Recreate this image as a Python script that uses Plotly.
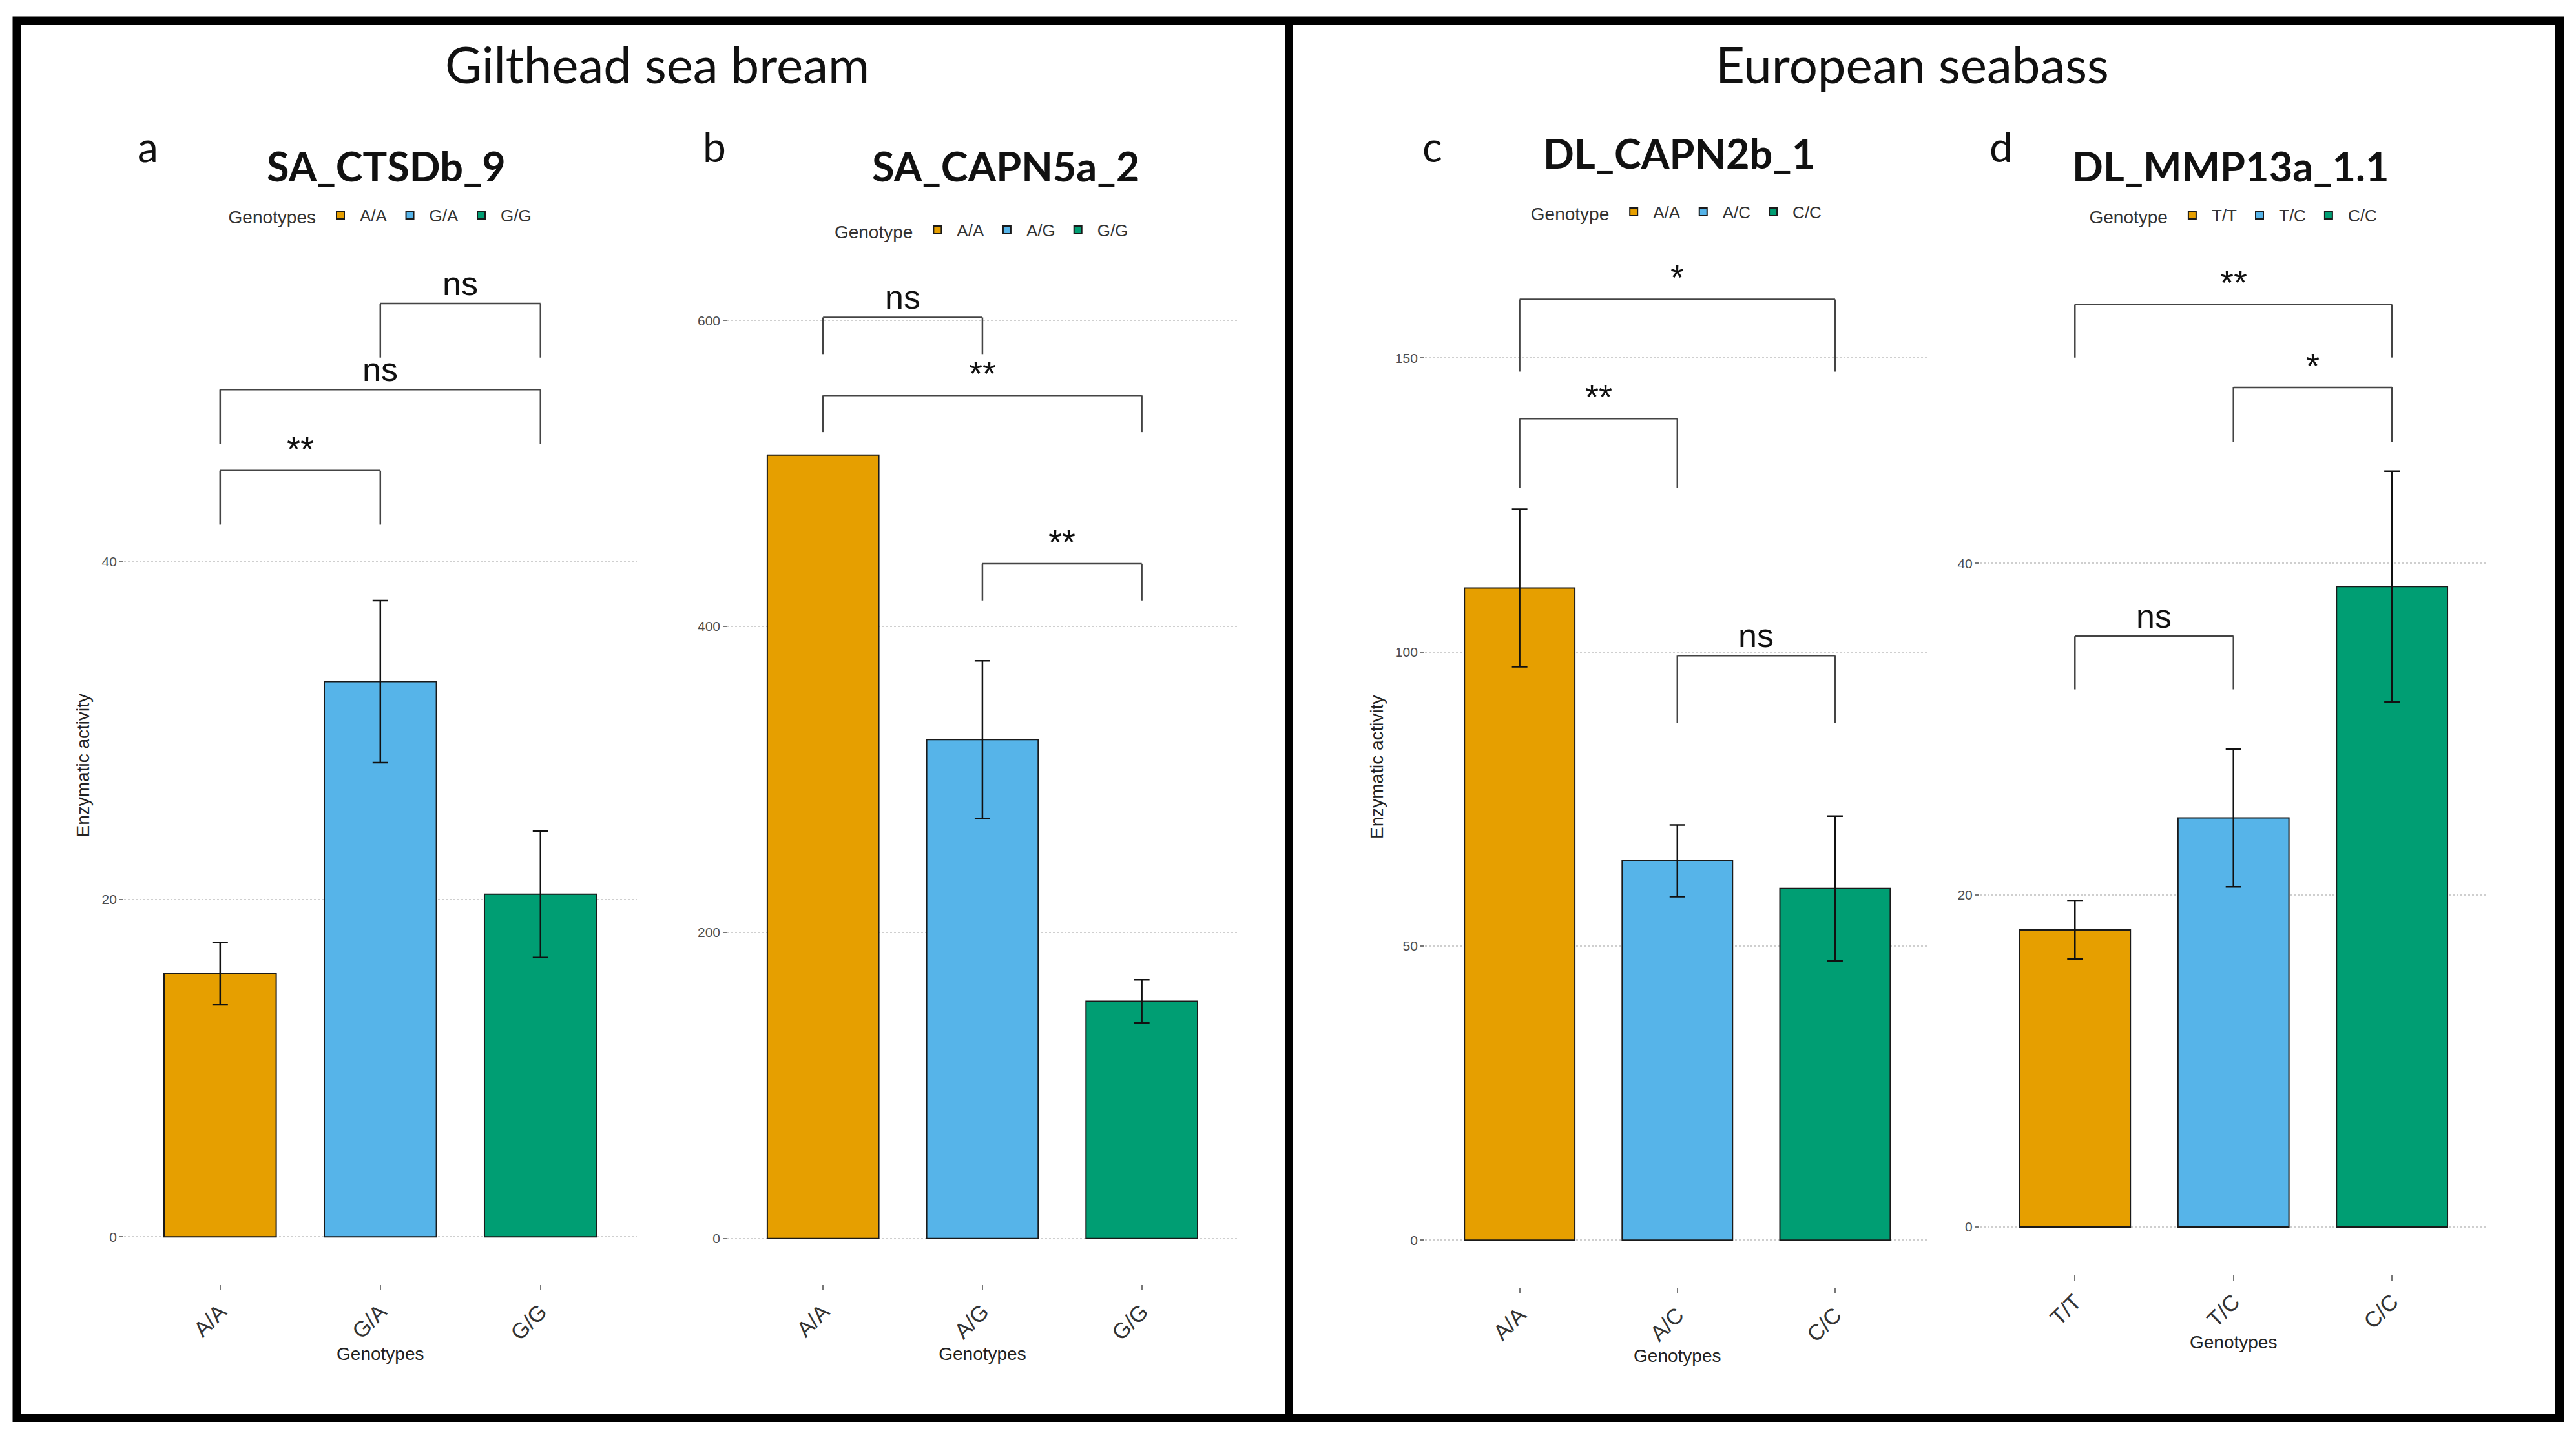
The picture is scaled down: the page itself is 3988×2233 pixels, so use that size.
import plotly.graph_objects as go

# ---------------- data ----------------
genotype_colors = ["#E69F00", "#56B4E9", "#009E73"]

species_titles = ["Gilthead sea bream", "European seabass"]
panel_letters = ["a", "b", "c", "d"]
panel_titles = ["SA_CTSDb_9", "SA_CAPN5a_2", "DL_CAPN2b_1", "DL_MMP13a_1.1"]
legend_titles = ["Genotypes", "Genotype", "Genotype", "Genotype"]

a_genotypes = ["A/A", "G/A", "G/G"]
a_activity = [15.6, 32.9, 20.3]
a_se = [1.85, 4.8, 3.75]
a_sig_from = [0, 0, 1]
a_sig_to = [1, 2, 2]
a_sig_y = [45.4, 50.2, 55.3]
a_sig_tip = [3.2, 3.2, 3.2]
a_sig_label = ["**", "ns", "ns"]

b_genotypes = ["A/A", "A/G", "G/G"]
b_activity = [512, 326, 155]
b_se = [None, 51.5, 14]
b_sig_from = [0, 0, 1]
b_sig_to = [1, 2, 2]
b_sig_y = [602, 551, 441]
b_sig_tip = [24, 24, 24]
b_sig_label = ["ns", "**", "**"]

c_genotypes = ["A/A", "A/C", "C/C"]
c_activity = [110.9, 64.5, 59.8]
c_se = [13.4, 6.1, 12.3]
c_sig_from = [0, 0, 1]
c_sig_to = [1, 2, 2]
c_sig_y = [139.7, 160.0, 99.4]
c_sig_tip = [11.8, 12.3, 11.5]
c_sig_label = ["**", "*", "ns"]

d_genotypes = ["T/T", "T/C", "C/C"]
d_activity = [17.9, 24.65, 38.6]
d_se = [1.75, 4.15, 6.95]
d_sig_from = [0, 1, 0]
d_sig_to = [2, 2, 1]
d_sig_y = [55.6, 50.6, 35.6]
d_sig_tip = [3.2, 3.3, 3.2]
d_sig_label = ["**", "*", "ns"]

y_ticks = [[0, 20, 40], [0, 200, 400, 600], [0, 50, 100, 150], [0, 20, 40]]
y_title = "Enzymatic activity"
x_title = "Genotypes"

# ---------------- layout geometry (reference px at 1568x878 preview) ----------------
W, H = 3988, 2233
S = W / 1568.0


def fx(p):
    return p * S / W


def fy(p):
    return 1 - p * S / H


geom = [
    dict(x0=75.5, x1=387.5, yb=782, yt=150, yr=[-2.82, 58.69]),
    dict(x0=442.8, x1=753.2, yb=782, yt=150, yr=[-30.06, 648.4]),
    dict(x0=867.4, x1=1174.6, yb=784, yt=150, yr=[-8.1, 169.0]),
    dict(x0=1205.1, x1=1513.9, yb=776, yt=150, yr=[-2.87, 59.1]),
]
letter_pos = [(90, 89), (435, 89), (872, 89), (1218, 89)]
title_pos = [(235, 101), (612, 101), (1022, 93), (1358, 101)]
legend_pos = [(232, 131), (598, 140), (1021, 129), (1360, 131)]
species_pos = [(400, 39), (1164, 39)]

panels = [
    (a_genotypes, a_activity, a_se, a_sig_from, a_sig_to, a_sig_y, a_sig_tip, a_sig_label),
    (b_genotypes, b_activity, b_se, b_sig_from, b_sig_to, b_sig_y, b_sig_tip, b_sig_label),
    (c_genotypes, c_activity, c_se, c_sig_from, c_sig_to, c_sig_y, c_sig_tip, c_sig_label),
    (d_genotypes, d_activity, d_se, d_sig_from, d_sig_to, d_sig_y, d_sig_tip, d_sig_label),
]

AX_FONT = "Liberation Sans, Arial, sans-serif"
TITLE_FONT = "Lato, Open Sans, sans-serif"

fig = go.Figure()
shapes = []
annotations = []
layout = {}

for k, (gens, vals, ses, sf, st, sy, stip, slab) in enumerate(panels):
    n = "" if k == 0 else str(k + 1)
    xa, ya = "x" + n, "y" + n
    leg = "legend" + n
    for i, g in enumerate(gens):
        err = ses[i]
        fig.add_trace(go.Bar(
            x=[g], y=[vals[i]], name=g, width=0.7,
            marker=dict(color=genotype_colors[i], line=dict(color="#1a1a1a", width=2)),
            error_y=dict(type="data", array=[err], visible=err is not None,
                         color="#111111", thickness=2.5, width=12),
            xaxis=xa, yaxis=ya, legend=leg, showlegend=True,
        ))
    gm = geom[k]
    layout["xaxis" + n] = dict(
        domain=[fx(gm["x0"]), fx(gm["x1"])], anchor=ya, type="category",
        categoryorder="array", categoryarray=gens, range=[-0.6, 2.6],
        showgrid=False, zeroline=False, showline=False,
        ticks="outside", ticklen=8, tickwidth=2, tickcolor="#777777",
        tickangle=-45, tickfont=dict(family=AX_FONT, size=34, color="#333333"),
        title=dict(text=x_title, standoff=4, font=dict(family=AX_FONT, size=28, color="#222222")),
        automargin=False, fixedrange=True,
    )
    layout["yaxis" + n] = dict(
        domain=[fy(gm["yb"]), fy(gm["yt"])], anchor=xa, range=gm["yr"],
        tickvals=y_ticks[k], showgrid=True, gridcolor="#CFCFCF", gridwidth=2, griddash="dot",
        zeroline=False, showline=False,
        ticks="outside", ticklen=6, tickwidth=2, tickcolor="#777777",
        tickfont=dict(family=AX_FONT, size=21, color="#4D4D4D"),
        title=dict(text=y_title if k in (0, 2) else "", standoff=10,
                   font=dict(family=AX_FONT, size=28, color="#222222")),
        automargin=False, fixedrange=True,
    )
    lx, lyy = legend_pos[k]
    layout[leg] = dict(
        orientation="h", x=fx(lx), y=fy(lyy), xanchor="center", yanchor="middle",
        xref="paper", yref="paper",
        title=dict(text=legend_titles[k], side="left",
                   font=dict(family=AX_FONT, size=28, color="#333333")),
        font=dict(family=AX_FONT, size=26, color="#333333"),
        bgcolor="rgba(0,0,0,0)", itemwidth=50, traceorder="normal",
        itemclick=False, itemdoubleclick=False,
    )
    # significance brackets
    for j in range(len(sy)):
        x0, x1, y, tip = sf[j], st[j], sy[j], stip[j]
        line = dict(color="#444444", width=2.5)
        shapes.append(dict(type="line", xref=xa, yref=ya, x0=x0, x1=x1, y0=y, y1=y, line=line))
        shapes.append(dict(type="line", xref=xa, yref=ya, x0=x0, x1=x0, y0=y, y1=y - tip, line=line))
        shapes.append(dict(type="line", xref=xa, yref=ya, x0=x1, x1=x1, y0=y, y1=y - tip, line=line))
        is_ns = slab[j] == "ns"
        annotations.append(dict(
            x=(x0 + x1) / 2, y=y, xref=xa, yref=ya, text=slab[j], showarrow=False,
            xanchor="center", yanchor="bottom", yshift=0 if is_ns else 2,
            font=dict(family=AX_FONT, size=52 if is_ns else 54, color="#111111"),
        ))
    # panel letter + title
    px_, py_ = letter_pos[k]
    annotations.append(dict(x=fx(px_), y=fy(py_), xref="paper", yref="paper", text=panel_letters[k],
                            showarrow=False, xanchor="center", yanchor="middle",
                            font=dict(family=TITLE_FONT, size=64, color="#111111")))
    tx, ty = title_pos[k]
    annotations.append(dict(x=fx(tx), y=fy(ty), xref="paper", yref="paper",
                            text="<b>" + panel_titles[k] + "</b>",
                            showarrow=False, xanchor="center", yanchor="middle",
                            font=dict(family=TITLE_FONT, size=63, color="#111111")))

for s, (sx, syy) in enumerate(species_pos):
    annotations.append(dict(x=fx(sx), y=fy(syy), xref="paper", yref="paper", text=species_titles[s],
                            showarrow=False, xanchor="center", yanchor="middle",
                            font=dict(family=TITLE_FONT, size=78, color="#111111")))

# frame around the figure and the divider between the two species blocks
frame = dict(color="#000000", width=13)
shapes.append(dict(type="rect", xref="paper", yref="paper",
                   x0=26 / W, x1=3962.5 / W, y0=1 - 2195.5 / H, y1=1 - 32 / H, line=frame))
shapes.append(dict(type="line", xref="paper", yref="paper",
                   x0=1995.5 / W, x1=1995.5 / W, y0=1 - 2195.5 / H, y1=1 - 32 / H, line=frame))

fig.update_layout(
    **layout,
    barmode="overlay",
    shapes=shapes,
    annotations=annotations,
    width=W, height=H,
    margin=dict(l=0, r=0, t=0, b=0),
    paper_bgcolor="white", plot_bgcolor="white",
    font=dict(family=AX_FONT, color="#222222"),
    hovermode=False,
)

fig.write_html("out.html", config={"displayModeBar": False},
               post_script="document.body.style.margin='0px';")
